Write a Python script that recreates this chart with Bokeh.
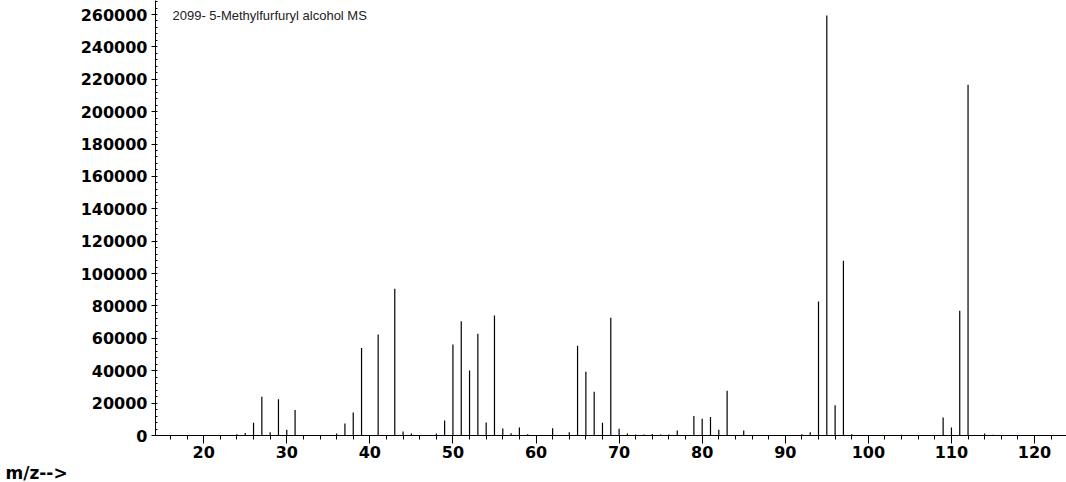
from bokeh.plotting import figure
from bokeh.models import SingleIntervalTicker, Label, Title, Range1d, ColumnDataSource, NumeralTickFormatter
from bokeh.embed import file_html
from bokeh.resources import INLINE

title_text = "2099- 5-Methylfurfuryl alcohol MS"
x_label = "m/z-->"

mz = [24, 25, 26, 27, 28, 29, 30, 31, 36, 37, 38, 39, 41, 43, 44, 45, 48, 49, 50,
      51, 52, 53, 54, 55, 56, 57, 58, 59, 62, 64, 65, 66, 67, 68, 69, 70, 71, 72,
      73, 74, 75, 76, 77, 79, 80, 81, 82, 83, 85, 92, 93, 94, 95, 96, 97, 98, 104,
      109, 110, 111, 112, 114, 115]
intensity = [800, 1500, 7800, 24000, 2000, 22400, 3500, 15800, 1200, 7400, 14200,
             54100, 62400, 90600, 2500, 1200, 1200, 9300, 56200, 70600, 40100, 62800,
             8000, 74100, 4300, 1400, 4900, 800, 4500, 2000, 55400, 39300, 27000,
             7800, 72700, 4100, 1200, 600, 600, 1000, 600, 600, 3100, 12100, 10300,
             11500, 3500, 27600, 3100, 800, 2000, 82800, 259400, 18700, 107900, 800,
             500, 11100, 4900, 77000, 216600, 1200, 500]

src = ColumnDataSource(dict(x=mz, y=intensity, y0=[0] * len(mz)))

p = figure(width=1066, height=482, output_backend="svg", toolbar_location=None,
           x_range=Range1d(14.2, 123.85), y_range=Range1d(0, 268650),
           min_border_left=155, min_border_right=0, min_border_top=0,
           min_border_bottom=47)
p.outline_line_color = None
p.grid.visible = False
p.background_fill_color = "white"
p.border_fill_color = "white"

p.segment(x0="x", y0="y0", x1="x", y1="y", source=src, line_color="black", line_width=1.2)

xa = p.xaxis[0]
xa.ticker = SingleIntervalTicker(interval=10, num_minor_ticks=5)
xa.major_tick_out = 8
xa.major_tick_in = 0
xa.minor_tick_out = 4
xa.minor_tick_in = 0
xa.major_label_text_font = "DejaVu Sans"
xa.major_label_text_font_style = "bold"
xa.major_label_text_font_size = "16px"
xa.major_label_text_color = "black"
xa.major_label_standoff = 2
xa.axis_line_color = "black"

ya = p.yaxis[0]
ya.ticker = SingleIntervalTicker(interval=20000, num_minor_ticks=5)
ya.formatter = NumeralTickFormatter(format="0")
ya.major_tick_out = 4
ya.major_tick_in = 0
ya.minor_tick_out = 0
ya.minor_tick_in = 2
ya.major_label_text_font = "DejaVu Sans"
ya.major_label_text_font_style = "bold"
ya.major_label_text_font_size = "16px"
ya.major_label_text_color = "black"
ya.major_label_standoff = 4
ya.axis_line_color = "black"

p.add_layout(Label(x=17, y=420, x_units="screen", y_units="screen", text=title_text,
                   text_font="Liberation Sans", text_font_size="13px",
                   text_color="#222222", text_baseline="middle"))
p.add_layout(Title(text=x_label, align="left", offset=-150, standoff=0,
                   text_font="DejaVu Sans", text_font_style="bold",
                   text_font_size="17px", text_color="black"), "below")

open("out.html", "w").write(file_html(p, INLINE))
